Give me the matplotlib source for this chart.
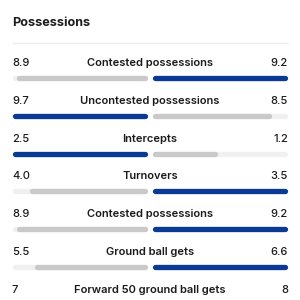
import matplotlib
matplotlib.use("Agg")
import matplotlib.pyplot as plt

# data
labels = ["Contested possessions", "Uncontested possessions", "Intercepts",
          "Turnovers", "Contested possessions", "Ground ball gets",
          "Forward 50 ground ball gets"]
left_txt = ["8.9", "9.7", "2.5", "4.0", "8.9", "5.5", "7"]
right_txt = ["9.2", "8.5", "1.2", "3.5", "9.2", "6.6", "8"]
left_vals = [8.9, 9.7, 2.5, 4.0, 8.9, 5.5, 7]
right_vals = [9.2, 8.5, 1.2, 3.5, 9.2, 6.6, 8]
lower_better = [False, False, False, True, False, False, False]

BLUE = "#0a3a94"
GREY = "#c9c9c9"
TRACK = "#f0f0f0"
TEXT = "#1b1b1b"

plt.rcParams["font.family"] = ["Inter", "DejaVu Sans"]

fig = plt.figure(figsize=(3, 3), dpi=100)
ax = fig.add_axes([0, 0, 1, 1])
ax.set_xlim(0, 300)
ax.set_ylim(300, 0)
ax.axis("off")

x0, x1 = 12, 288
mid_l, mid_r = 148, 152
half = mid_l - x0
lw = 3.8  # points, ~5px
r = 2.6

ax.text(x0, 23.5, "Possessions", fontsize=9.1, fontweight="bold", color=TEXT,
        va="center", ha="left")
ax.hlines(43, x0, x1, color="#ececec", lw=1)

for i, lab in enumerate(labels):
    ty = 63 + i * 37.8
    by = ty + 15
    ax.text(x0, ty, left_txt[i], fontsize=8, fontweight="medium", color=TEXT,
            va="center", ha="left")
    ax.text(x1, ty, right_txt[i], fontsize=8, fontweight="medium", color=TEXT,
            va="center", ha="right")
    ax.text(150, ty, lab, fontsize=8, fontweight="semibold", color=TEXT,
            va="center", ha="center")

    a, b = left_vals[i], right_vals[i]
    if lower_better[i]:
        fl, fr = min(a, b) / a, min(a, b) / b
        left_win = a < b
    else:
        fl, fr = a / max(a, b), b / max(a, b)
        left_win = a > b
    # tracks
    ax.hlines(by, x0 + r, mid_l - r, color=TRACK, lw=lw, capstyle="round")
    ax.hlines(by, mid_r + r, x1 - r, color=TRACK, lw=lw, capstyle="round")
    # values
    ax.hlines(by, mid_l - fl * half + r, mid_l - r,
              color=BLUE if left_win else GREY, lw=lw, capstyle="round")
    ax.hlines(by, mid_r + r, mid_r + fr * half - r,
              color=GREY if left_win else BLUE, lw=lw, capstyle="round")

fig.savefig("out.png", dpi=100)
